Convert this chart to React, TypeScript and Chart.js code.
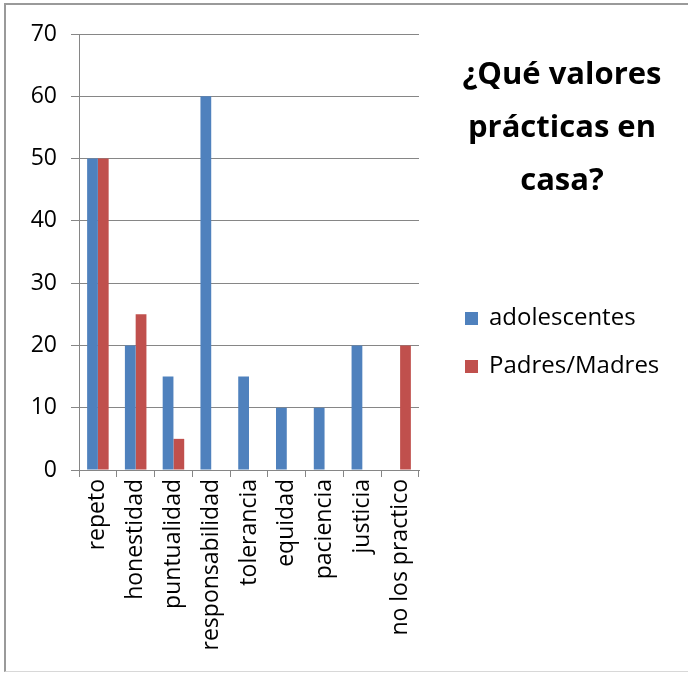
import React, { useEffect, useRef } from "react";
import { Chart, registerables } from "chart.js";

Chart.register(...registerables);

const categories = [
  "repeto",
  "honestidad",
  "puntualidad",
  "responsabilidad",
  "tolerancia",
  "equidad",
  "paciencia",
  "justicia",
  "no los practico",
];
const adolescentes = [50, 20, 15, 60, 15, 10, 10, 20, 0];
const padresMadres = [50, 25, 5, 0, 0, 0, 0, 0, 20];
const seriesNames = ["adolescentes", "Padres/Madres"];
const titleLines = ["¿Qué valores", "prácticas en", "casa?"];
const yTicks = { min: 0, max: 70, step: 10 };

const FONT = "'Open Sans', 'Noto Sans', sans-serif";

const titlePlugin = {
  id: "sideTitle",
  afterDraw(chart: any) {
    const ctx = chart.ctx;
    ctx.save();
    ctx.fillStyle = "#000";
    ctx.font = `bold 31px ${FONT}`;
    ctx.textAlign = "center";
    ctx.textBaseline = "middle";
    titleLines.forEach((line, i) => {
      ctx.fillText(line, 562, 75 + i * 53);
    });
    ctx.restore();
  },
};

const legendPlugin = {
  id: "sideLegend",
  afterDraw(chart: any) {
    const ctx = chart.ctx;
    ctx.save();
    ctx.font = `24px ${FONT}`;
    ctx.textBaseline = "middle";
    ctx.textAlign = "left";
    chart.data.datasets.forEach((ds: any, i: number) => {
      const y = 318 + i * 48;
      ctx.fillStyle = ds.backgroundColor;
      ctx.fillRect(465, y - 6, 13, 13);
      ctx.fillStyle = "#000";
      ctx.fillText(ds.label, 489, y);
    });
    ctx.restore();
  },
};

export default function App() {
  const ref = useRef<HTMLCanvasElement>(null);

  useEffect(() => {
    if (!ref.current) return;
    const chart = new Chart(ref.current, {
      type: "bar",
      data: {
        labels: categories,
        datasets: [
          {
            label: seriesNames[0],
            data: adolescentes,
            backgroundColor: "#4F81BD",
            categoryPercentage: 0.57,
            barPercentage: 1,
          },
          {
            label: seriesNames[1],
            data: padresMadres,
            backgroundColor: "#C0504D",
            categoryPercentage: 0.57,
            barPercentage: 1,
          },
        ],
      },
      options: {
        animation: false,
        responsive: false,
        maintainAspectRatio: false,
        layout: { padding: { top: 34, right: 270, left: 0, bottom: 0 } },
        plugins: {
          legend: { display: false },
          title: { display: false },
          tooltip: { enabled: false },
        },
        scales: {
          x: {
            afterFit: (s: any) => {
              s.height = 205;
            },
            grid: {
              offset: true,
              drawOnChartArea: false,
              drawTicks: true,
              tickLength: 7,
              color: "#868686",
            },
            border: { display: true, color: "#868686" },
            ticks: {
              minRotation: 90,
              maxRotation: 90,
              autoSkip: false,
              padding: 2,
              color: "#000",
              font: { family: FONT, size: 23 },
            },
          },
          y: {
            min: yTicks.min,
            max: yTicks.max,
            afterFit: (s: any) => {
              s.width = 79;
            },
            grid: {
              color: "#868686",
              tickLength: 8,
              drawTicks: true,
            },
            border: { display: true, color: "#868686" },
            ticks: {
              stepSize: yTicks.step,
              padding: 14,
              color: "#000",
              font: { family: FONT, size: 23 },
            },
          },
        },
      },
      plugins: [titlePlugin, legendPlugin],
    } as any);
    return () => chart.destroy();
  }, []);

  return (
    <div style={{ position: "absolute", left: 0, top: 0, width: 689, height: 675, background: "#fff" }}>
      <div
        style={{
          position: "absolute",
          left: 4,
          top: 3,
          width: 684,
          height: 669,
          borderLeft: "2px solid #9a9a9a",
          borderTop: "2px solid #9a9a9a",
          borderBottom: "1px solid #d8d8d8",
          boxSizing: "border-box",
        }}
      />
      <canvas ref={ref} width={689} height={675} style={{ position: "absolute", left: 0, top: 0 }} />
    </div>
  );
}
